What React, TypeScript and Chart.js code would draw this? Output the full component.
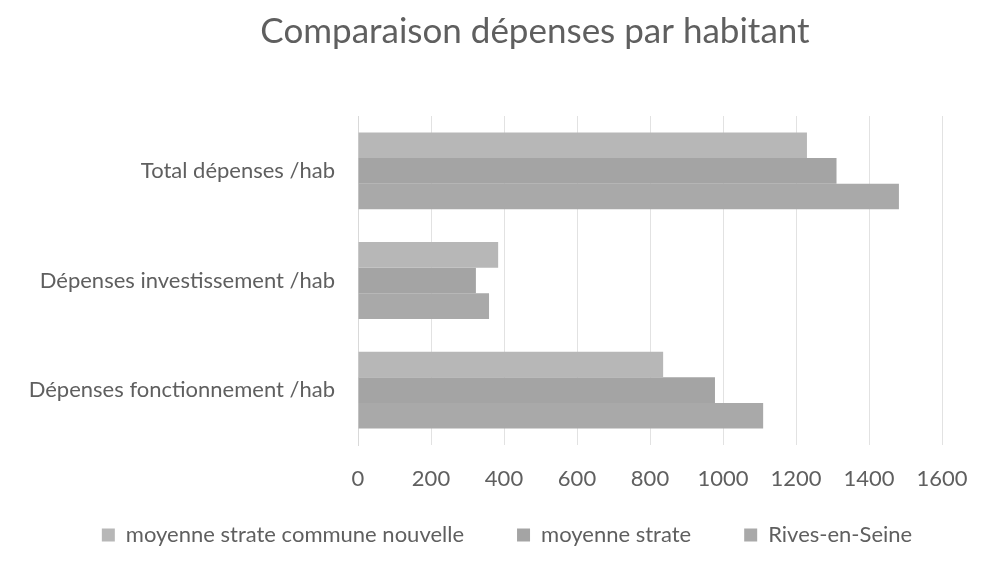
import React, { useEffect, useRef } from "react";
import { Chart, registerables } from "chart.js";

Chart.register(...registerables);

const chartTitle = "Comparaison dépenses par habitant";
const categories = [
  "Total dépenses /hab",
  "Dépenses investissement /hab",
  "Dépenses fonctionnement /hab",
];
const seriesNames = ["moyenne strate commune nouvelle", "moyenne strate", "Rives-en-Seine"];
const communeNouvelle = [1230, 384, 836];
const moyenneStrate = [1311, 323, 978];
const rivesEnSeine = [1482, 359, 1110];
const xTicks = [0, 200, 400, 600, 800, 1000, 1200, 1400, 1600];

const FONT = "Lato, 'Open Sans', sans-serif";
const TEXT = "#5f5f5f";

const titlePlugin = {
  id: "centeredTitle",
  afterDraw(chart: any) {
    const ctx = chart.ctx;
    ctx.save();
    ctx.font = `normal 35px ${FONT}`;
    ctx.fillStyle = TEXT;
    ctx.textAlign = "center";
    ctx.textBaseline = "alphabetic";
    ctx.fillText(chartTitle, 535, 43);
    ctx.restore();
  },
};

const legendShift = {
  id: "legendShift",
  afterLayout(chart: any) {
    const l = chart.legend;
    if (l) {
      l.top -= 21;
      l.bottom -= 21;
    }
  },
};

export default function App() {
  const ref = useRef<HTMLCanvasElement | null>(null);
  useEffect(() => {
    if (!ref.current) return;
    const chart = new Chart(ref.current, {
      type: "bar",
      data: {
        labels: categories,
        datasets: [
          { label: seriesNames[0], data: communeNouvelle, backgroundColor: "#b7b7b7" },
          { label: seriesNames[1], data: moyenneStrate, backgroundColor: "#a4a4a4" },
          { label: seriesNames[2], data: rivesEnSeine, backgroundColor: "#a9a9a9" },
        ],
      },
      plugins: [titlePlugin, legendShift],
      options: {
        indexAxis: "y",
        animation: false,
        responsive: true,
        maintainAspectRatio: false,
        layout: { padding: { left: 28, right: 0, top: 116, bottom: 0 } },
        datasets: { bar: { categoryPercentage: 0.7, barPercentage: 1.0 } },
        plugins: {
          title: { display: false },
          legend: {
            position: "bottom",
            maxHeight: 76,
            labels: {
              color: TEXT,
              font: { family: FONT, size: 22 },
              boxWidth: 13,
              boxHeight: 13,
              padding: 53,
            },
          },
          tooltip: { enabled: false },
        },
        scales: {
          x: {
            min: 0,
            max: 1600,
            afterBuildTicks: (axis: any) => {
              axis.ticks = xTicks.map((v) => ({ value: v }));
            },
            afterFit: (axis: any) => {
              axis.paddingRight = 44;
              axis.height = 47;
            },
            ticks: {
              color: TEXT,
              font: { family: FONT, size: 22 },
              padding: 21,
              maxRotation: 0,
              callback: (v: any) => String(v),
            },
            grid: { color: "#e2e2e2", drawTicks: false },
            border: { display: false },
          },
          y: {
            afterFit: (axis: any) => {
              axis.width = 330;
            },
            ticks: { color: TEXT, font: { family: FONT, size: 22 }, padding: 23 },
            grid: { display: false, drawTicks: false },
            border: { display: true, color: "#d9d9d9" },
          },
        },
      },
    });
    return () => chart.destroy();
  }, []);
  return (
    <div style={{ position: "fixed", left: 0, top: 0, width: 986, height: 568, background: "#ffffff" }}>
      <canvas ref={ref} />
    </div>
  );
}
